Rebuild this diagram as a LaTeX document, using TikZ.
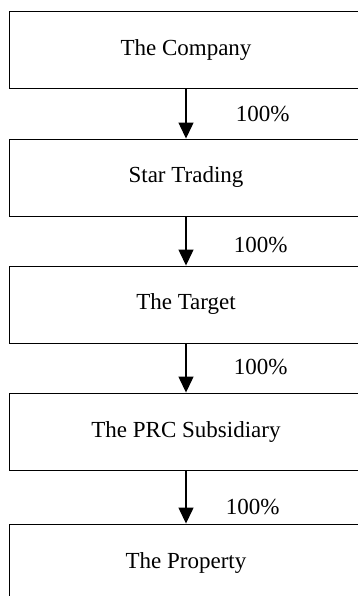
\documentclass[tikz,border=0pt]{standalone}
\usepackage{fontspec}
\setmainfont{Liberation Serif}
\usetikzlibrary{arrows.meta}

\tikzset{
  entity/.style={draw, line width=0.9pt, minimum width=354pt, minimum height=77pt,
    inner sep=0pt, font=\fontsize{23}{27}\selectfont},
  holding/.style={line width=1.3pt, -{Triangle[length=16pt,width=15pt]}},
  share/.style={anchor=west, font=\fontsize{23}{27}\selectfont}
}

\begin{document}
\begin{tikzpicture}[x=1pt, y=1pt]
    \useasboundingbox (0,0) rectangle (358,-596);
    \clip (0,0) rectangle (358,-596);

    % entities
    \node[entity] (company)  at (186,-50)    {The Company};
    \node[entity] (star)     at (186,-177.5) {Star Trading};
    \node[entity] (target)   at (186,-304.5) {The Target};
    \node[entity] (prc)      at (186,-431.5) {The PRC Subsidiary};
    \node[entity] (property) at (186,-562.5) {The Property};

    % shareholdings
    \foreach \from/\to/\dx/\dy in {company/star/46/0, star/target/44/-4,
                                   target/prc/44/1, prc/property/36/-10} {
        \draw[holding] (\from) -- (\to)
            node[share, midway, xshift=\dx pt, yshift=\dy pt] {100\%};
    }
\end{tikzpicture}
\end{document}
